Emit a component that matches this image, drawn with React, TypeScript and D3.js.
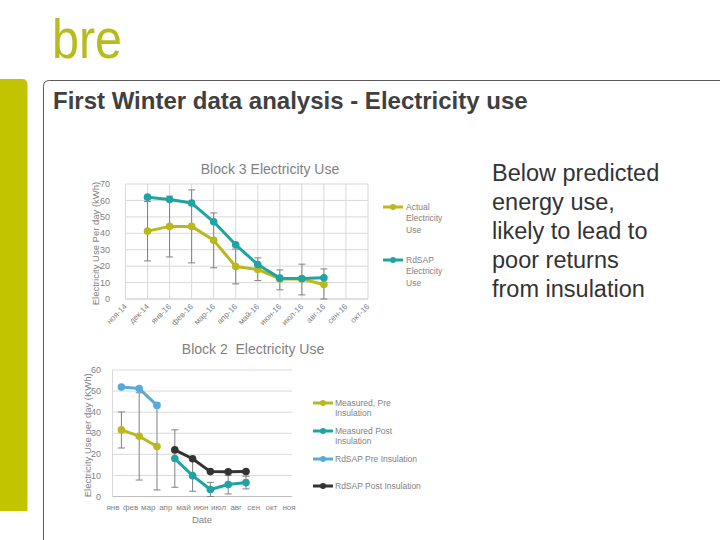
import React from 'react'
import * as d3 from 'd3'

// Block 3 chart data
const block3Months = ['ноя-14', 'дек-14', 'янв-16', 'фев-16', 'мар-16', 'апр-16', 'май-16', 'июн-16', 'июл-16', 'авг-16', 'сен-16', 'окт-16']
const block3Actual = [null, 41.3, 44.2, 44.2, 35.7, 19.8, 18.0, 12.2, 12.1, 8.8, null, null]
const block3RdSAP = [null, 62.0, 60.6, 58.4, 47.0, 33.0, 21.0, 12.7, 12.5, 12.9, null, null]
const block3ErrHigh = [null, 59.3, 62.6, 66.4, 52.4, 30.4, 25.0, 17.7, 21.2, 18.3, null, null]
const block3ErrLow = [null, 23.2, 25.6, 22.0, 19.0, 9.2, 11.2, 5.6, 2.5, 0, null, null]
const block3Ticks = [0, 10, 20, 30, 40, 50, 60, 70]
const block3Legend = [['Actual', 'Electricity', 'Use'], ['RdSAP', 'Electricity', 'Use']]

// Block 2 chart data
const block2Months = ['янв', 'фев', 'мар', 'апр', 'май', 'июн', 'июл', 'авг', 'сен', 'окт', 'ноя']
const measuredPre = [31.6, 28.6, 23.7, null, null, null, null, null, null, null, null]
const measuredPreHigh = [40.1, 49.2, 44.3, null, null, null, null, null, null, null, null]
const measuredPreLow = [23.0, 7.8, 3.1, null, null, null, null, null, null, null, null]
const measuredPost = [null, null, null, 18.0, 9.9, 3.3, 5.7, 6.6, null, null, null]
const measuredPostHigh = [null, null, null, 31.6, 18.0, 6.7, 10.0, 9.6, null, null, null]
const measuredPostLow = [null, null, null, 4.4, 2.5, 0, 1.2, 3.6, null, null, null]
const rdsapPre = [51.9, 51.2, 43.2, null, null, null, null, null, null, null, null]
const rdsapPost = [null, null, null, 22.1, 17.9, 11.8, 11.7, 11.8, null, null, null]
const block2Ticks = [0, 10, 20, 30, 40, 50, 60]
const block2Legend = [['Measured, Pre', 'Insulation'], ['Measured Post', 'Insulation'], ['RdSAP Pre Insulation'], ['RdSAP Post Insulation']]

const sideText = ['Below predicted', 'energy use,', 'likely to lead to', 'poor returns', 'from insulation']

const OLIVE = '#b9b81c'
const TEAL = '#1fa3a3'
const LIGHTBLUE = '#5aaad8'
const DARK = '#333333'
const ERR = '#808080'
const GRID = '#d9d9d9'
const TXT = '#7f7f7f'
const FONT = '"Liberation Sans", Arial, sans-serif'

type V = number | null

function Series({ values, x, y, color }: { values: V[], x: (i: number) => number, y: d3.ScaleLinear<number, number>, color: string }) {
    const line = d3.line<V>()
        .defined(d => d !== null)
        .x((d, i) => x(i))
        .y(d => y(d as number))
    return (
        <g>
            <path d={line(values) || ''} fill="none" stroke={color} strokeWidth={3} strokeLinejoin="round" />
            {values.map((d, i) => d === null ? null :
                <circle key={i} cx={x(i)} cy={y(d)} r={3.8} fill={color} />
            )}
        </g>
    )
}

function ErrorBars({ high, low, x, y }: { high: V[], low: V[], x: (i: number) => number, y: d3.ScaleLinear<number, number> }) {
    return (
        <g stroke={ERR} strokeWidth={1}>
            {high.map((h, i) => {
                const l = low[i]
                if (h === null || l === null) return null
                const cx = x(i)
                return (
                    <g key={i}>
                        <line x1={cx} x2={cx} y1={y(h)} y2={y(l)} />
                        <line x1={cx - 3.5} x2={cx + 3.5} y1={y(h)} y2={y(h)} />
                        <line x1={cx - 3.5} x2={cx + 3.5} y1={y(l)} y2={y(l)} />
                    </g>
                )
            })}
        </g>
    )
}

function LegendGlyph({ x, y, color }: { x: number, y: number, color: string }) {
    return (
        <g>
            <line x1={x} x2={x + 20} y1={y} y2={y} stroke={color} strokeWidth={3} />
            <circle cx={x + 10} cy={y} r={3} fill={color} />
        </g>
    )
}

function Block3Chart() {
    const x = d3.scalePoint<string>().domain(block3Months).range([125.5, 368])
    const y = d3.scaleLinear().domain([0, 70]).range([299, 184])
    const xi = (i: number) => x(block3Months[i]) as number
    const colors = [OLIVE, TEAL]
    const legendY = [207, 260]
    return (
        <g fontFamily={FONT}>
            <text x={270} y={174} textAnchor="middle" fontSize={14} fill={TXT}>Block 3 Electricity Use</text>
            {block3Ticks.map(t => (
                <g key={t}>
                    <line x1={125.5} x2={368} y1={y(t)} y2={y(t)} stroke={t === 0 ? '#bfbfbf' : GRID} />
                    <text x={110} y={y(t)} dy="0.35em" textAnchor="end" fontSize={9} fill={TXT}>{t}</text>
                </g>
            ))}
            {block3Months.map(m => (
                <g key={m}>
                    <line x1={x(m)} x2={x(m)} y1={y(70)} y2={y(0)} stroke={GRID} />
                    <text transform={`translate(${x(m)},${y(0) + 6}) rotate(-45)`} textAnchor="end" dy="0.35em" fontSize={8} fill={TXT}>{m}</text>
                </g>
            ))}
            <text transform={`translate(99,${(y(0) + y(70)) / 2 + 2}) rotate(-90)`} textAnchor="middle" fontSize={9.5} fill={TXT}>Electricity Use Per day (kWh)</text>
            <ErrorBars high={block3ErrHigh} low={block3ErrLow} x={xi} y={y} />
            <Series values={block3Actual} x={xi} y={y} color={OLIVE} />
            <Series values={block3RdSAP} x={xi} y={y} color={TEAL} />
            {block3Legend.map((lines, k) => (
                <g key={k}>
                    <LegendGlyph x={383} y={legendY[k]} color={colors[k]} />
                    {lines.map((s, j) => (
                        <text key={j} x={406} y={legendY[k] + j * 11.5} dy="0.35em" fontSize={8.5} fill={TXT}>{s}</text>
                    ))}
                </g>
            ))}
        </g>
    )
}

function Block2Chart() {
    const xb = d3.scaleBand<string>().domain(block2Months).range([112.5, 308.3])
    const xl = d3.scalePoint<string>().domain(block2Months).range([113, 289])
    const y = d3.scaleLinear().domain([0, 60]).range([496.5, 370])
    const xi = (i: number) => (xb(block2Months[i]) as number) + xb.bandwidth() / 2
    const right = 292
    const colors = [OLIVE, TEAL, LIGHTBLUE, DARK]
    const legendY = [403, 431, 459, 486]
    return (
        <g fontFamily={FONT}>
            <text x={253} y={354} textAnchor="middle" fontSize={14} fill={TXT} style={{ whiteSpace: 'pre' }}>{'Block 2  Electricity Use'}</text>
            {block2Ticks.map(t => (
                <g key={t}>
                    <line x1={112.5} x2={right} y1={y(t)} y2={y(t)} stroke={t === 0 ? '#bfbfbf' : GRID} />
                    <text x={101} y={y(t)} dy="0.35em" textAnchor="end" fontSize={9} fill={TXT}>{t}</text>
                </g>
            ))}
            <line x1={112.5} x2={112.5} y1={y(60)} y2={y(0)} stroke={GRID} />
            {block2Months.map(m => (
                <text key={m} x={xl(m)} y={507} dy="0.35em" textAnchor="middle" fontSize={8} fill={TXT}>{m}</text>
            ))}
            <text x={202} y={523} textAnchor="middle" fontSize={9.5} fill={TXT}>Date</text>
            <text transform={`translate(91,${(y(0) + y(60)) / 2 + 2}) rotate(-90)`} textAnchor="middle" fontSize={9.5} fill={TXT}>Electricity Use per day (KWh)</text>
            <ErrorBars high={measuredPreHigh} low={measuredPreLow} x={xi} y={y} />
            <ErrorBars high={measuredPostHigh} low={measuredPostLow} x={xi} y={y} />
            <Series values={rdsapPre} x={xi} y={y} color={LIGHTBLUE} />
            <Series values={measuredPre} x={xi} y={y} color={OLIVE} />
            <Series values={rdsapPost} x={xi} y={y} color={DARK} />
            <Series values={measuredPost} x={xi} y={y} color={TEAL} />
            {block2Legend.map((lines, k) => (
                <g key={k}>
                    <LegendGlyph x={313} y={legendY[k]} color={colors[k]} />
                    {lines.map((s, j) => (
                        <text key={j} x={335} y={legendY[k] + j * 10.5} dy="0.35em" fontSize={8.5} fill={TXT}>{s}</text>
                    ))}
                </g>
            ))}
        </g>
    )
}

export default function App() {
    return (
        <svg width={720} height={540} style={{ position: 'absolute', left: 0, top: 0, background: '#fff' }}>
            <rect width={720} height={540} fill="#fff" />
            <text x={52} y={58} fontFamily={FONT} fontSize={56} fill="#b7bc1e" textLength={70} lengthAdjust="spacingAndGlyphs">bre</text>
            <path d="M0,79 H22 Q27.5,79 27.5,84.5 V511 H0 Z" fill="#c3c400" />
            <path d="M43.5,540 V86.5 Q43.5,80.5 49.5,80.5 H720" fill="none" stroke="#595959" strokeWidth={1} />
            <text x={53} y={109} fontFamily={FONT} fontWeight="bold" fontSize={24} fill="#404040">First Winter data analysis - Electricity use</text>
            {sideText.map((s, i) => (
                <text key={i} x={492} y={181 + i * 29} fontFamily={FONT} fontSize={23.5} fill="#333">{s}</text>
            ))}
            <Block3Chart />
            <Block2Chart />
        </svg>
    )
}
